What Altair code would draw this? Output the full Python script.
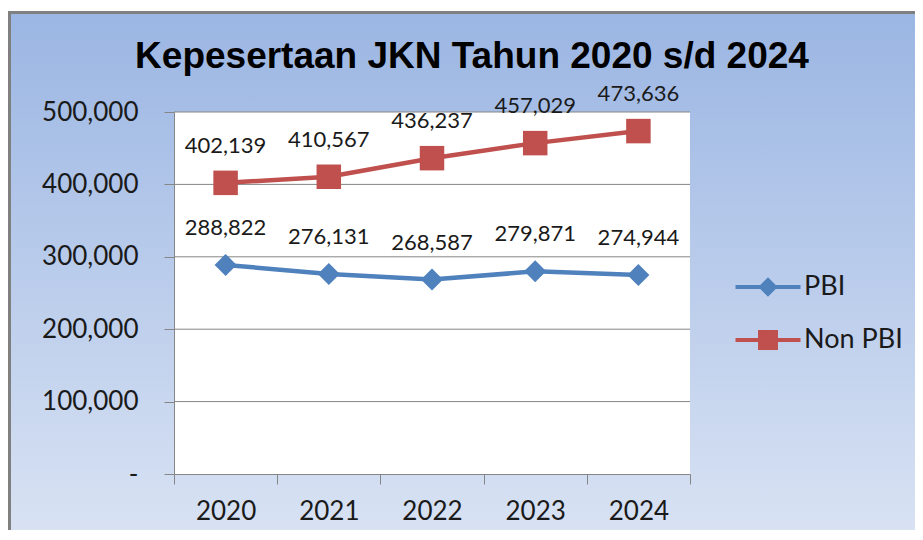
import altair as alt
import pandas as pd

years = ["2020", "2021", "2022", "2023", "2024"]
pbi = [288822, 276131, 268587, 279871, 274944]
non_pbi = [402139, 410567, 436237, 457029, 473636]
series_names = ["PBI", "Non PBI"]
series_colors = ["#4F81BD", "#C0504D"]
y_ticks = [0, 100000, 200000, 300000, 400000, 500000]
grid_values = [100000, 200000, 300000, 400000, 500000]

rows = []
for name, vals in zip(series_names, [pbi, non_pbi]):
    for yr, v in zip(years, vals):
        rows.append({"year": yr, "value": v, "series": name})
df = pd.DataFrame(rows)
grid_df = pd.DataFrame({"g": grid_values})

W, H = 516, 362
PAD = {"left": 166, "top": 104, "right": 225, "bottom": 56}

x_enc = alt.X("year:O", sort=years,
              scale=alt.Scale(type="band", paddingInner=0, paddingOuter=0),
              axis=alt.Axis(title=None, labelAngle=0, tickBand="extent", tickSize=10,
                            labelPadding=14, labelFont="Lato", labelFontSize=26,
                            labelColor="#1a1a1a", domainColor="#868686", tickColor="#868686",
                            grid=False, zindex=1))
y_enc = alt.Y("value:Q", scale=alt.Scale(domain=[0, 500000], nice=False),
              axis=alt.Axis(title=None, values=y_ticks, tickSize=10, labelPadding=26,
                            labelExpr="datum.value == 0 ? '-' : format(datum.value, ',')",
                            labelFont="Lato", labelFontSize=26, labelColor="#1a1a1a",
                            domainColor="#868686", tickColor="#868686", grid=False, zindex=1))

bg = alt.Chart(grid_df).mark_rect(
    color=alt.LinearGradient(gradient="linear", x1=0, x2=0, y1=0, y2=1,
                             stops=[alt.GradientStop(color="#9BB6E3", offset=0),
                                    alt.GradientStop(color="#DFE7F5", offset=1)]),
    stroke="#808080", strokeWidth=3, clip=False
).encode(x=alt.value(-164.5), x2=alt.value(800), y=alt.value(-99.5), y2=alt.value(480))

plot_bg = alt.Chart(grid_df).mark_rect(color="white").encode(
    x=alt.value(0), x2=alt.value(W), y=alt.value(0), y2=alt.value(H))

grid = alt.Chart(grid_df).mark_rule(color="#868686", strokeWidth=1).encode(
    y=alt.Y("g:Q", scale=alt.Scale(domain=[0, 500000], nice=False)))

sym_expr = ("datum.value === 'PBI' ? 'M-1.71,0H1.71M-0.36,0L0,-0.36L0.36,0L0,0.36Z' "
            ": 'M-1.71,0H1.71M-0.42,-0.42H0.42V0.42H-0.42Z'")

color_enc = alt.Color("series:N", scale=alt.Scale(domain=series_names, range=series_colors),
                      legend=alt.Legend(
                          title=None, orient="none", legendX=573, legendY=154,
                          labelFont="Lato", labelFontSize=27, labelColor="#1a1a1a",
                          symbolSize=1444, rowPadding=17, labelOffset=15, zindex=1,
                          symbolType=alt.ExprRef(expr=sym_expr),
                          symbolStrokeWidth=4, symbolOpacity=1))

base = alt.Chart(df).encode(x=x_enc, y=y_enc)
lines = base.mark_line(strokeWidth=4.5).encode(color=color_enc)
pts_pbi = base.transform_filter(alt.datum.series == "PBI").mark_point(
    filled=True, opacity=1, shape="diamond", size=484).encode(color=color_enc)
pts_non = base.transform_filter(alt.datum.series == "Non PBI").mark_point(
    filled=True, opacity=1, shape="square", size=600).encode(color=color_enc)
labels = base.mark_text(dy=-37, font="Lato", fontSize=22, color="#1a1a1a").encode(
    text=alt.Text("value:Q", format=","))

chart = alt.layer(bg, plot_bg, grid, lines, pts_pbi, pts_non, labels).properties(
    width=W, height=H,
    autosize=alt.AutoSizeParams(type="none"),
    padding=PAD,
    title=alt.TitleParams("Kepesertaan JKN Tahun 2020 s/d 2024", font="Liberation Sans",
                          fontSize=37, fontWeight="bold", color="black", anchor="middle",
                          baseline="alphabetic", dx=40, offset=-94, zindex=1)
).configure_view(stroke=None)

chart.save("out.html", embed_options={"renderer": "svg", "actions": False})
